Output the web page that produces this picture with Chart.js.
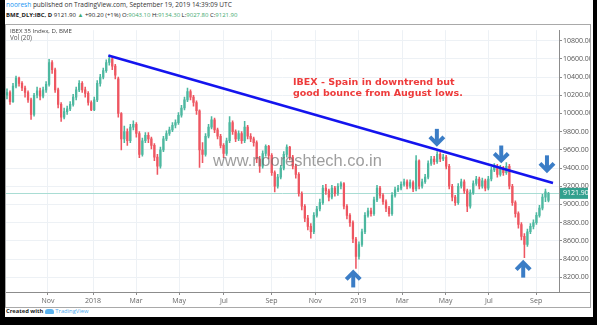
<!DOCTYPE html>
<html>
<head>
<meta charset="utf-8">
<script src="https://cdn.jsdelivr.net/npm/chart.js@4.4.7/dist/chart.umd.min.js"></script>
<style>
  html, body { margin: 0; padding: 0; }
  body { width: 597px; height: 325px; position: relative; background: #fff; overflow: hidden; font-family: "Open Sans", sans-serif; }
  .frame { position: absolute; background: #000; }
  .txt { position: absolute; white-space: nowrap; line-height: 1; }
  #box { position: absolute; left: 5px; top: 24px; width: 586px; height: 284px; box-sizing: border-box; border: 1px solid #a9a9a9; }
  #chart { position: absolute; left: 0; top: 0; }
  .g { color: #43a96f; }
  .note { color: #ee3b3b; font-family: "DejaVu Sans", sans-serif; font-weight: bold; font-size: 10.5px; }
  #wm { color: rgba(105, 105, 105, 0.65); font-family: "Liberation Sans", sans-serif; font-size: 18px; }
</style>
</head>
<body>
<div class="frame" style="left:0;top:0;width:5px;height:325px"></div>
<div class="frame" style="left:593px;top:0;width:4px;height:325px"></div>
<div class="frame" style="left:0;top:317px;width:597px;height:8px"></div>

<div class="txt" id="h1" style="left:6px;top:2px;font-size:7px;color:#333"><span style="color:#2196f3">nooresh</span> published on TradingView.com, September 19, 2019 14:39:09 UTC</div>
<div class="txt" id="h2" style="left:6px;top:12px;font-size:7px;color:#222"><b>BME_DLY:IBC, D</b> 9121.90 <span class="g">&#9650;</span> +90.20 (+1%) O:<span class="g">9043.10</span> H:<span class="g">9134.30</span> L:<span class="g">9027.80</span> C:<span class="g">9121.90</span></div>

<div id="box">
  <canvas id="chart" width="584" height="282"></canvas>
</div>

<div class="txt" id="t1" style="left:10px;top:28px;font-size:7px;color:#444">IBEX 35 Index, D, BME</div>
<div class="txt" id="t2" style="left:10px;top:35px;font-size:7px;color:#555">Vol (20)</div>

<div class="txt note" id="n1" style="left:293px;top:77px">IBEX - Spain in downtrend but</div>
<div class="txt note" id="n2" style="left:293px;top:88px">good bounce from August lows.</div>
<div class="txt" id="wm" style="left:213px;top:152px">www.nooreshtech.co.in</div>

<div class="txt" id="f1" style="left:6px;top:309px;font-size:7px;color:#222"><b>Created with</b> <span style="display:inline-block;width:9px;height:5px;background:#5ab2ee;border-radius:3px 3px 1px 1px;vertical-align:middle"></span> <span style="color:#4aa8ee">TradingView</span></div>

<script>
// candles, one per ~3 trading days, Sep 2017 - Sep 19 2019
const open = [
10200,10230,10130,10300,10390,10330,10280,10230,10150,9990,
10200,10250,10190,10260,10320,10560,10480,10260,10100,9960,
10020,10050,10100,10180,10260,10330,10260,10220,10120,10040,
10150,10330,10400,10470,10560,10600,10520,10380,10000,9720,
9800,9700,9850,9880,9780,9550,9700,9760,9720,9650,
9520,9420,9600,9720,9780,9820,9870,9900,9980,10060,
10150,10240,10180,10120,10030,9600,9550,9750,9850,9930,
9820,9750,9650,9560,9700,9900,9800,9720,9780,9700,
9850,9750,9720,9680,9500,9420,9560,9640,9540,9350,
9200,9300,9400,9550,9630,9520,9420,9330,9120,8980,
8850,8760,8700,8880,8950,9020,9180,9150,9080,9180,
9120,9200,9230,8980,8880,8800,8620,8430,8560,8700,
8880,8930,8900,9050,9180,9100,9030,8960,8900,9100,
9160,9180,9220,9250,9200,9240,9170,9480,9200,9250,
9300,9450,9500,9470,9550,9500,9520,9420,9200,9080,
9020,9200,9250,9150,8980,9130,9230,9280,9200,9260,
9180,9280,9380,9420,9330,9400,9350,9420,9200,9020,
8900,8780,8650,8560,8700,8760,8800,8880,8960,9080,
9043.1];
const high = [
10270,10250,10330,10410,10400,10350,10300,10250,10170,10220,
10290,10280,10290,10350,10595,10580,10500,10280,10120,10060,
10080,10130,10210,10290,10360,10350,10290,10240,10140,10180,
10360,10430,10500,10590,10640,10620,10540,10400,10010,9860,
9830,9880,9920,9900,9800,9730,9790,9790,9740,9670,
9550,9630,9750,9810,9850,9900,9930,10010,10090,10180,
10280,10260,10200,10140,10040,9680,9780,9880,9967,9950,
9840,9770,9670,9730,9967,9920,9820,9810,9800,9913,
9870,9780,9740,9700,9530,9590,9654,9650,9560,9370,
9330,9430,9580,9654,9640,9540,9440,9350,9140,9000,
8880,8790,8910,8980,9060,9210,9220,9170,9210,9200,
9230,9250,9240,9000,8900,8820,8640,8590,8730,8910,
8960,8960,9080,9210,9200,9120,9050,8980,9130,9190,
9210,9250,9280,9270,9270,9260,9536,9490,9280,9330,
9480,9530,9530,9580,9570,9550,9540,9440,9220,9100,
9230,9280,9270,9170,9160,9260,9310,9300,9290,9280,
9310,9410,9450,9440,9430,9420,9460,9440,9220,9040,
8920,8800,8680,8730,8790,8830,8910,8990,9110,9170,
9134.3];
const low = [
10160,10100,10120,10280,10300,10250,10180,10120,9934,9970,
10170,10150,10170,10230,10300,10440,10230,10060,9913,9940,
9990,10030,10080,10150,10240,10230,10180,10090,10030,10030,
10130,10300,10380,10450,10530,10480,10380,9960,9600,9680,
9650,9680,9820,9740,9514,9530,9680,9680,9610,9480,
9331,9400,9580,9700,9760,9800,9840,9880,9960,10040,
10130,10150,10080,9990,9406,9460,9530,9730,9830,9790,
9720,9620,9514,9540,9680,9770,9690,9700,9670,9680,
9720,9690,9640,9460,9353,9400,9530,9500,9320,9138,
9180,9280,9380,9520,9490,9390,9290,9090,8940,8810,
8720,8630,8680,8860,8930,9000,9110,9040,9060,9090,
9100,9170,8950,8840,8760,8580,8297,8400,8540,8680,
8860,8870,8880,9030,9070,9000,8920,8870,8880,9080,
9140,9160,9200,9170,9180,9140,9150,9170,9180,9230,
9280,9430,9440,9450,9470,9480,9390,9170,9040,8990,
9000,9180,9120,8920,8960,9110,9210,9170,9180,9150,
9160,9260,9360,9300,9310,9320,9330,9170,8990,8860,
8740,8610,8416,8540,8680,8730,8780,8860,8940,9030,
9027.8];
const close = [
10230,10130,10300,10390,10330,10280,10230,10150,9990,10200,
10250,10190,10260,10320,10560,10480,10260,10100,9960,10020,
10050,10100,10180,10260,10330,10260,10220,10120,10040,10150,
10330,10400,10470,10560,10600,10520,10420,10000,9720,9800,
9700,9850,9880,9780,9550,9700,9760,9720,9650,9520,
9420,9600,9720,9780,9820,9870,9900,9980,10060,10150,
10240,10180,10120,10030,9600,9550,9750,9850,9930,9820,
9750,9650,9560,9700,9900,9800,9720,9780,9700,9850,
9750,9720,9680,9500,9420,9560,9640,9540,9350,9200,
9300,9400,9550,9630,9520,9420,9330,9120,8980,8850,
8760,8700,8880,8950,9020,9180,9150,9080,9180,9120,
9200,9230,8980,8880,8800,8620,8430,8560,8700,8880,
8930,8900,9050,9180,9100,9030,8960,8900,9100,9160,
9180,9220,9250,9200,9240,9170,9480,9200,9250,9300,
9450,9500,9470,9550,9500,9520,9420,9200,9080,9020,
9200,9250,9150,8980,9130,9230,9280,9200,9260,9180,
9280,9380,9420,9330,9400,9350,9420,9200,9020,8900,
8780,8650,8560,8700,8760,8800,8880,8960,9080,9140,
9121.9];
const lastPrice = 9121.9;

// time axis: month labels at candle positions
const monthLabels = ['Nov', '2018', 'Mar', 'May', 'Jul', 'Sep', 'Nov', '2019', 'Mar', 'May', 'Jul', 'Sep'];
const monthPos = [13.6, 28.6, 42.9, 57.2, 72.1, 87.9, 102.5, 116.8, 131.4, 145.8, 160.2, 175.9];
const priceTicks = [8200, 8400, 8600, 8800, 9000, 9200, 9400, 9600, 9800, 10000, 10200, 10400, 10600, 10800];

// drawn trend line and arrows (candle index, price)
const trendX = [33.7, 181.5];
const trendY = [10638, 9237];
const arrowX = [115.1, 142.9, 164.3, 171.6, 179.5];
const arrowY = [8275, 9644, 9461, 8383, 9353];
const arrowDir = ['up', 'down', 'down', 'up', 'down'];

const UP = '#4db8a0';
const DOWN = '#ee5661';
const candleColor = c => close[c.dataIndex] >= open[c.dataIndex] ? UP : DOWN;

const overlay = {
    id: 'overlay',
    beforeDatasetsDraw(chart) {
        const { ctx, chartArea: a, scales: { y } } = chart;
        const py = Math.round(y.getPixelForValue(lastPrice)) + 0.5;
        ctx.save();
        ctx.strokeStyle = '#a9ddd4';
        ctx.lineWidth = 1;
        ctx.beginPath();
        ctx.moveTo(a.left, py);
        ctx.lineTo(a.right, py);
        ctx.stroke();
        ctx.restore();
    },
    afterDraw(chart) {
        const { ctx, chartArea: a, scales: { x, y } } = chart;
        ctx.save();
        // time axis line runs under the price scale too
        ctx.strokeStyle = '#8c8c8c';
        ctx.lineWidth = 1;
        ctx.beginPath();
        ctx.moveTo(a.right, Math.round(a.bottom) + 0.5);
        ctx.lineTo(chart.width, Math.round(a.bottom) + 0.5);
        ctx.stroke();

        // last price label
        const py = y.getPixelForValue(lastPrice);
        ctx.fillStyle = '#32a08e';
        ctx.fillRect(a.right + 1, py - 5.5, 28, 11);
        ctx.fillStyle = '#fff';
        ctx.font = '7px "Open Sans", sans-serif';
        ctx.textBaseline = 'middle';
        ctx.fillText(lastPrice.toFixed(2), a.right + 4, py);

        // arrows
        ctx.strokeStyle = '#3b7dc6';
        ctx.lineWidth = 4;
        ctx.lineJoin = 'miter';
        arrowX.forEach((v, i) => {
            const px = x.getPixelForValue(v);
            const ty = y.getPixelForValue(arrowY[i]);
            const s = arrowDir[i] === 'down' ? 1 : -1;
            const tip = ty - s * 2;
            ctx.beginPath();
            ctx.moveTo(px, tip - s * 15);
            ctx.lineTo(px, tip - s * 1);
            ctx.stroke();
            ctx.beginPath();
            ctx.moveTo(px - 7, tip - s * 7);
            ctx.lineTo(px, tip);
            ctx.lineTo(px + 7, tip - s * 7);
            ctx.stroke();
        });
        ctx.restore();
    }
};

const gridColor = '#edf1f5';

new Chart(document.getElementById('chart'), {
    type: 'bar',
    data: {
        datasets: [
            {
                type: 'line',
                data: trendX.map((v, i) => ({ x: v, y: trendY[i] })),
                borderColor: '#1414ee',
                borderWidth: 2.6,
                pointRadius: 0,
                order: 0
            },
            {
                data: open.map((o, i) => ({ x: i, y: [o, close[i]] })),
                backgroundColor: candleColor,
                barThickness: 1.6,
                minBarLength: 1,
                grouped: false,
                order: 1
            },
            {
                data: open.map((o, i) => ({ x: i, y: [low[i], high[i]] })),
                backgroundColor: candleColor,
                barThickness: 0.9,
                grouped: false,
                order: 2
            }
        ]
    },
    options: {
        responsive: false,
        animation: false,
        devicePixelRatio: 1,
        layout: { padding: 0 },
        plugins: { legend: { display: false }, tooltip: { enabled: false } },
        scales: {
            x: {
                type: 'linear',
                min: -0.33,
                max: 183.5,
                offset: false,
                grid: { color: gridColor, offset: false, tickColor: '#8c8c8c', tickLength: 3 },
                border: { color: '#8c8c8c' },
                afterBuildTicks: s => { s.ticks = monthPos.map(v => ({ value: v })); },
                afterFit: s => { s.height = 15; },
                ticks: {
                    autoSkip: false,
                    maxRotation: 0,
                    padding: 2,
                    color: '#666',
                    font: { size: 7, family: '"Open Sans", sans-serif' },
                    callback: (v, i) => monthLabels[i]
                }
            },
            y: {
                type: 'linear',
                position: 'right',
                min: 8038,
                max: 10915,
                grid: { color: gridColor, tickColor: '#8c8c8c', tickLength: 3 },
                border: { color: '#8c8c8c' },
                afterBuildTicks: s => { s.ticks = priceTicks.map(v => ({ value: v })); },
                afterFit: s => { s.width = 31; },
                ticks: {
                    padding: 1,
                    color: '#555',
                    font: { size: 7, family: '"Open Sans", sans-serif' },
                    callback: v => v.toFixed(2)
                }
            }
        }
    },
    plugins: [overlay]
});

// size texts to the widths they take in the picture
function fitFont(id, w) {
    const el = document.getElementById(id);
    const cur = parseFloat(getComputedStyle(el).fontSize);
    el.style.fontSize = (cur * w / el.getBoundingClientRect().width) + 'px';
}
fitFont('h1', 226);
fitFont('h2', 232);
fitFont('t1', 62);
fitFont('t2', 22);
fitFont('n1', 162);
fitFont('n2', 170);
fitFont('wm', 169);
fitFont('f1', 81);
</script>
</body>
</html>
